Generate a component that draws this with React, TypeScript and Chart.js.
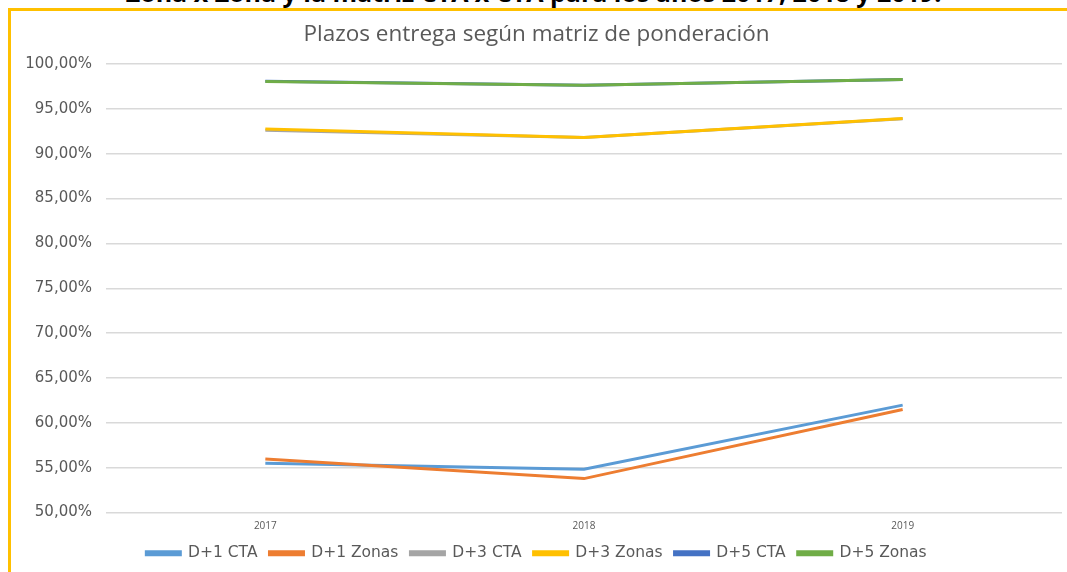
import React, { useEffect, useRef } from "react";
import { Chart, registerables } from "chart.js";

Chart.register(...registerables);

const years = ["2017", "2018", "2019"];
const seriesNames = ["D+1 CTA", "D+1 Zonas", "D+3 CTA", "D+3 Zonas", "D+5 CTA", "D+5 Zonas"];
const d1Cta = [55.49, 54.82, 61.97];
const d1Zonas = [55.97, 53.78, 61.49];
const d3Cta = [92.62, 91.8, 93.9];
const d3Zonas = [92.74, 91.81, 93.92];
const d5Cta = [98.08, 97.62, 98.28];
const d5Zonas = [98.05, 97.63, 98.26];
const seriesColors = ["#5B9BD5", "#ED7D31", "#A5A5A5", "#FFC000", "#4472C4", "#70AD47"];

const chartTitle = "Plazos entrega según matriz de ponderación";
const headingText = "Zona x Zona y la matriz CTA x CTA para los años 2017, 2018 y 2019.";

export default function App() {
  const canvasRef = useRef<HTMLCanvasElement | null>(null);

  useEffect(() => {
    if (!canvasRef.current) return;
    const values = [d1Cta, d1Zonas, d3Cta, d3Zonas, d5Cta, d5Zonas];
    const chart = new Chart(canvasRef.current, {
      type: "line",
      data: {
        labels: years,
        datasets: seriesNames.map((name, i) => ({
          label: name,
          data: values[i],
          borderColor: seriesColors[i],
          backgroundColor: seriesColors[i],
          borderWidth: 3,
          pointRadius: 0,
          pointHoverRadius: 0,
          tension: 0,
          fill: false,
          order: seriesNames.length - i,
        })),
      },
      options: {
        animation: false,
        responsive: false,
        maintainAspectRatio: false,
        layout: { padding: { left: 0, right: 5, top: 0, bottom: 1 } },
        plugins: {
          title: {
            display: true,
            text: chartTitle,
            color: "#595959",
            font: { family: "'Open Sans'", size: 22.5, weight: "normal" },
            padding: { top: 10, bottom: 16 },
          },
          legend: {
            position: "bottom",
            labels: {
              boxWidth: 34,
              boxHeight: 3,
              color: "#595959",
              font: { family: "'DejaVu Sans'", size: 15.5 },
              padding: 12,
              sort: (a: any, b: any) => a.datasetIndex - b.datasetIndex,
            },
          },
          tooltip: { enabled: false },
        },
        scales: {
          x: {
            offset: true,
            grid: { display: false },
            border: { display: false },
            ticks: {
              color: "#595959",
              font: { family: "'Open Sans'", size: 10 },
              padding: 0,
            },
            afterFit: (scale: any) => {
              scale.height = 21;
            },
          },
          y: {
            min: 50,
            max: 100,
            grid: { color: "#d9d9d9", lineWidth: 1.5, drawTicks: false },
            border: { display: false },
            ticks: {
              stepSize: 5,
              color: "#595959",
              font: { family: "'DejaVu Sans'", size: 15 },
              padding: 14,
              callback: (v: any) => Number(v).toFixed(2).replace(".", ",") + "%",
            },
            afterFit: (scale: any) => {
              scale.width = 95;
            },
          },
        },
      },
    });
    return () => chart.destroy();
  }, []);

  return (
    <div style={{ position: "fixed", inset: 0, overflow: "hidden", background: "#fff" }}>
      <div
        style={{
          position: "absolute",
          left: 0,
          width: 1067,
          top: -24.5,
          textAlign: "center",
          fontFamily: "'Open Sans', sans-serif",
          fontWeight: 700,
          fontSize: 25,
          lineHeight: "32px",
          color: "#000",
          whiteSpace: "nowrap",
        }}
      >
        {headingText}
      </div>
      <div
        style={{
          position: "absolute",
          left: 8,
          top: 8,
          width: 1059,
          height: 564,
          borderTop: "3px solid #FFC000",
          borderLeft: "3px solid #FFC000",
          boxSizing: "border-box",
        }}
      >
        <canvas ref={canvasRef} width={1056} height={561} style={{ display: "block" }} />
      </div>
    </div>
  );
}
